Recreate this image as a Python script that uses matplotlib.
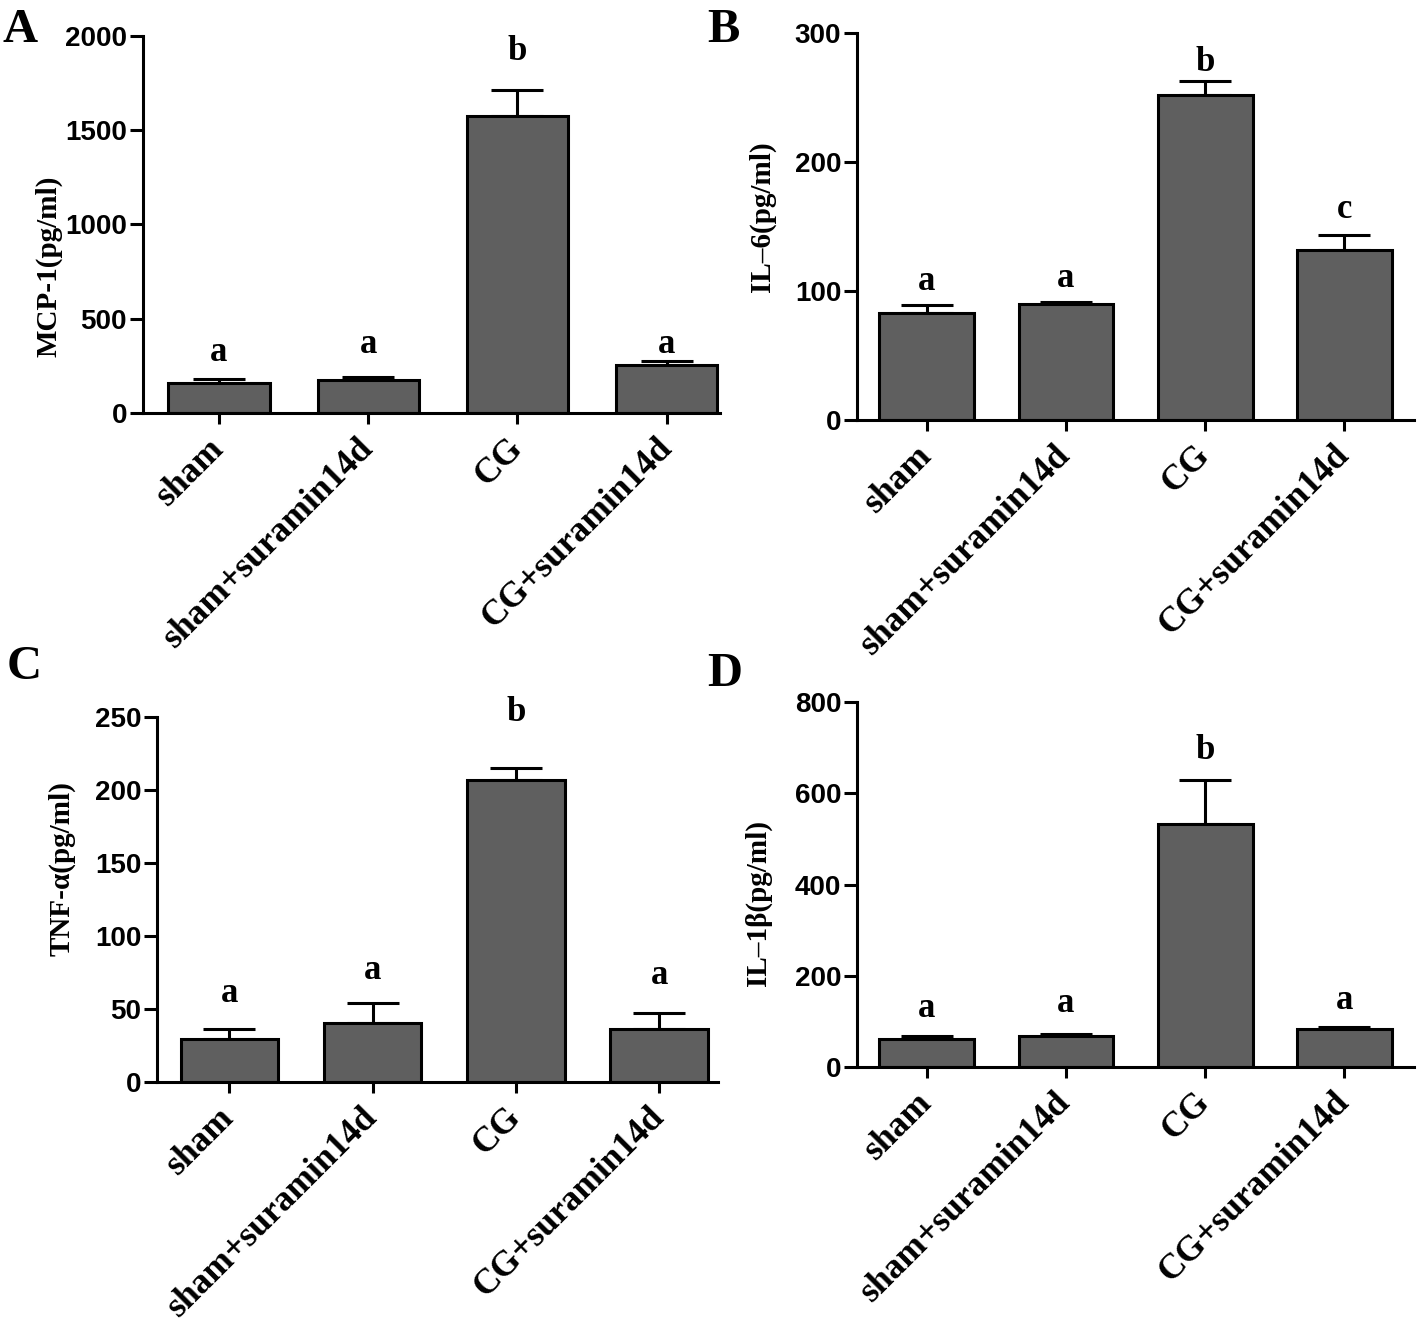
import numpy as np
import matplotlib
matplotlib.use("Agg")
import matplotlib.pyplot as plt
from matplotlib.transforms import ScaledTranslation

groups = ["sham", "sham+suramin14d", "CG", "CG+suramin14d"]

# panel A - MCP-1
mcp1_mean = [160, 173, 1576, 253]
mcp1_sem = [22, 18, 138, 23]
mcp1_letters = ["a", "a", "b", "a"]
mcp1_letter_y = [322, 362, 1917, 362]

# panel B - IL-6
il6_mean = [83, 89.7, 251.6, 131.9]
il6_sem = [6.4, 2.1, 10.9, 11.6]
il6_letters = ["a", "a", "b", "c"]
il6_letter_y = [107, 110, 277, 163]

# panel C - TNF-alpha
tnf_mean = [29.2, 40.4, 207, 36.1]
tnf_sem = [6.9, 13.7, 8.3, 11.4]
tnf_letters = ["a", "a", "b", "a"]
tnf_letter_y = [60.5, 76.5, 253.4, 73]

# panel D - IL-1beta
il1b_mean = [62, 67, 533, 82.5]
il1b_sem = [6, 6, 97, 5.2]
il1b_letters = ["a", "a", "b", "a"]
il1b_letter_y = [128, 139, 694, 146]

SERIF = "Liberation Serif"
SANS = "Liberation Sans"
BAR_COLOR = "#5f5f5f"
LW = 2.2

fig = plt.figure(figsize=(14.18, 13.28), dpi=100)

panels = [
    # tag, ylabel, means, sems, letters, letter_y, ymax, yticks, rect, xlim, label_xy, tag_xy
    ("A", "MCP-1(pg/ml)", mcp1_mean, mcp1_sem, mcp1_letters, mcp1_letter_y, 2000,
     [0, 500, 1000, 1500, 2000], [0.1008, 0.689, 0.4072, 0.2839], (-0.51, 3.36), (-0.14, 0.39), (0.002, 0.994)),
    ("B", "IL\u20136(pg/ml)", il6_mean, il6_sem, il6_letters, il6_letter_y, 300,
     [0, 100, 200, 300], [0.6044, 0.6837, 0.3928, 0.2915], (-0.5, 3.5), (-0.145, 0.525), (0.499, 0.994)),
    ("C", "TNF-\u03b1(pg/ml)", tnf_mean, tnf_sem, tnf_letters, tnf_letter_y, 250,
     [0, 50, 100, 150, 200, 250], [0.1107, 0.1852, 0.3956, 0.2749], (-0.506, 3.41), (-0.146, 0.586), (0.005, 0.514)),
    ("D", "IL\u20131\u03b2(pg/ml)", il1b_mean, il1b_sem, il1b_letters, il1b_letter_y, 800,
     [0, 200, 400, 600, 800], [0.6044, 0.1965, 0.3928, 0.2749], (-0.5, 3.5), (-0.152, 0.449), (0.499, 0.509)),
]

# nudge the rotated group names a little to the right of their ticks
label_shift = ScaledTranslation(0.08, -0.06, fig.dpi_scale_trans)

for tag, ylabel, means, sems, letters, letter_y, ymax, yticks, rect, xlim, label_xy, tag_xy in panels:
    ax = fig.add_axes(rect)
    x = np.arange(len(groups))
    ax.bar(x, means, width=0.68, color=BAR_COLOR, edgecolor="black", linewidth=LW, zorder=2)
    ax.errorbar(x, means, yerr=[np.zeros(len(sems)), sems], fmt="none", ecolor="black",
                elinewidth=LW, capsize=19, capthick=LW, zorder=1)
    for xi, lt, ly in zip(x, letters, letter_y):
        ax.text(xi, ly, lt, ha="center", va="center", fontsize=25, fontweight="bold",
                family=SERIF, clip_on=False)

    ax.set_xlim(*xlim)
    ax.set_ylim(0, ymax)
    ax.set_yticks(yticks)
    ax.set_yticklabels([str(t) for t in yticks], fontsize=20, fontweight="bold", family=SANS)
    ax.set_xticks(x)
    ax.set_xticklabels(groups, rotation=45, ha="right", va="center", rotation_mode="anchor",
                       fontsize=25.5, fontweight="bold", family=SERIF)
    for lbl in ax.get_xticklabels():
        lbl.set_transform(lbl.get_transform() + label_shift)
    ax.tick_params(axis="y", direction="out", length=9.4, width=LW, pad=2)
    ax.tick_params(axis="x", direction="out", length=8, width=LW, pad=14)
    for side in ["top", "right"]:
        ax.spines[side].set_visible(False)
    for side in ["left", "bottom"]:
        ax.spines[side].set_linewidth(LW)

    ax.set_ylabel(ylabel, fontsize=21, fontweight="bold", family=SERIF)
    ax.yaxis.set_label_coords(*label_xy)

    fig.text(tag_xy[0], tag_xy[1], tag, ha="left", va="top", fontsize=35,
             fontweight="bold", family=SERIF)

fig.savefig("out.png", dpi=100)
